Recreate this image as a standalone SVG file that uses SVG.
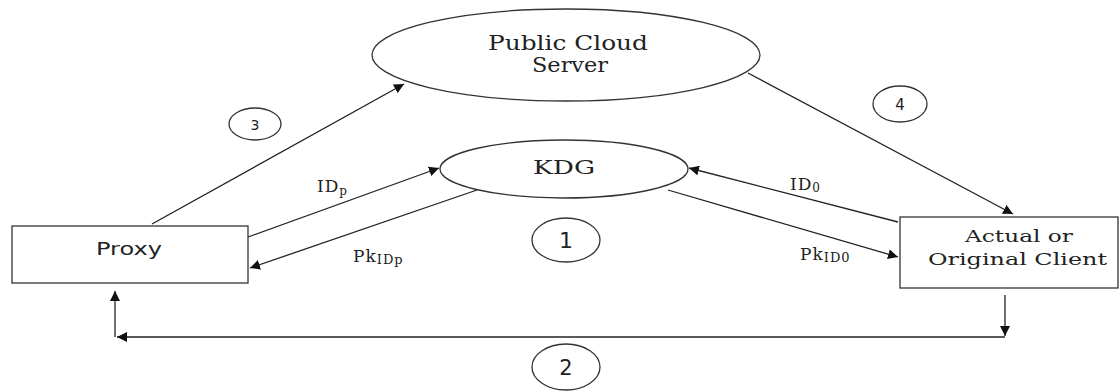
<svg xmlns="http://www.w3.org/2000/svg" width="1120" height="392" viewBox="0 0 1120 392">
<defs>
<style>
.shape{fill:#fff;stroke:#333;stroke-width:1.3}
.line{fill:none;stroke:#222;stroke-width:1.3}
.ser{font-family:"DejaVu Serif","Liberation Serif",serif;fill:#222}
.sans{font-family:"DejaVu Sans","Liberation Sans",sans-serif;fill:#222;text-anchor:middle}
.lbl{font-family:"DejaVu Serif","Liberation Serif",serif;fill:#222;font-size:17px;letter-spacing:1px}
</style>
<marker id="ah" viewBox="0 0 10 10" refX="10" refY="5" markerWidth="10" markerHeight="10" markerUnits="userSpaceOnUse" orient="auto">
<path d="M0,0 L10,5 L0,10 z" fill="#111"/>
</marker>
</defs>
<rect width="1120" height="392" fill="#fff"/>
<g id="connectors">
<line class="line" x1="152" y1="224" x2="404" y2="84" marker-end="url(#ah)"/>
<line class="line" x1="748" y1="73" x2="1013" y2="214" marker-end="url(#ah)"/>
<line class="line" x1="248" y1="237" x2="439" y2="168" marker-end="url(#ah)"/>
<line class="line" x1="477" y1="190" x2="250" y2="268" marker-end="url(#ah)"/>
<line class="line" x1="898" y1="222" x2="689" y2="168" marker-end="url(#ah)"/>
<line class="line" x1="668" y1="190" x2="898" y2="257" marker-end="url(#ah)"/>
<line class="line" x1="1005" y1="295" x2="1005" y2="336" marker-end="url(#ah)"/>
<line class="line" x1="1005" y1="337" x2="117" y2="337" marker-end="url(#ah)"/>
<line class="line" x1="115" y1="337" x2="115" y2="291" marker-end="url(#ah)"/>
</g>
<g id="cloud">
<ellipse class="shape" cx="566" cy="55" rx="194" ry="46"/>
<text class="ser" x="488" y="50" font-size="20" textLength="160" lengthAdjust="spacingAndGlyphs">Public Cloud</text>
<text class="ser" x="532" y="72" font-size="20" textLength="76" lengthAdjust="spacingAndGlyphs">Server</text>
</g>
<g id="kdg">
<ellipse class="shape" cx="564" cy="169" rx="124" ry="29"/>
<text class="ser" x="533" y="174" font-size="18" textLength="62" lengthAdjust="spacingAndGlyphs">KDG</text>
</g>
<g id="proxy">
<rect class="shape" x="12" y="226" width="236" height="57"/>
<text class="sans" x="96" y="255" font-size="17" style="text-anchor:start" textLength="66" lengthAdjust="spacingAndGlyphs">Proxy</text>
</g>
<g id="client">
<rect class="shape" x="900" y="217" width="218" height="71"/>
<text class="ser" x="965" y="242" font-size="17" textLength="108" lengthAdjust="spacingAndGlyphs">Actual or</text>
<text class="ser" x="928" y="265" font-size="17" textLength="179" lengthAdjust="spacingAndGlyphs">Original Client</text>
</g>
<g id="labels">
<text class="lbl" x="317" y="192">ID<tspan font-size="12" dy="3">p</tspan></text>
<text class="lbl" x="353" y="262">Pk<tspan font-size="13" dy="2">IDp</tspan></text>
<text class="lbl" x="790" y="190">ID<tspan font-size="12" dy="2">0</tspan></text>
<text class="lbl" x="800" y="260">Pk<tspan font-size="13" dy="2">ID0</tspan></text>
</g>
<g id="step3">
<ellipse class="shape" cx="255" cy="124" rx="26" ry="16"/>
<text class="sans" x="255" y="130" font-size="14">3</text>
</g>
<g id="step4">
<ellipse class="shape" cx="900" cy="104" rx="27" ry="18"/>
<text class="sans" x="900" y="110" font-size="15">4</text>
</g>
<g id="step1">
<ellipse class="shape" cx="566" cy="240" rx="34" ry="22"/>
<text class="sans" x="566" y="248" font-size="22">1</text>
</g>
<g id="step2">
<ellipse class="shape" cx="566" cy="367" rx="34" ry="23"/>
<text class="sans" x="566" y="375" font-size="21">2</text>
</g>
</svg>
